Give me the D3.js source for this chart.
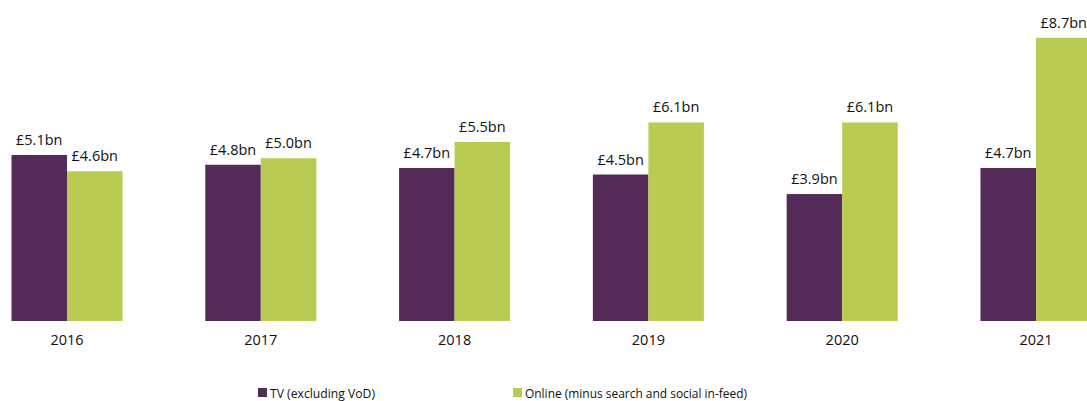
<!DOCTYPE html>
<html><head><meta charset="utf-8">
<script src="https://cdn.jsdelivr.net/npm/d3@7"></script>
<style>body{margin:0;background:#fff}svg{display:block}text{font-family:"Open Sans",sans-serif;fill:#111}</style>
</head><body>
<svg id="c" width="1087" height="401"></svg>
<script>
const years = ["2016","2017","2018","2019","2020","2021"];
const seriesNames = ["TV (excluding VoD)","Online (minus search and social in-feed)"];
const tvValues = [5.1,4.8,4.7,4.5,3.9,4.7];
const onlineValues = [4.6,5.0,5.5,6.1,6.1,8.7];
const colors = ["#542a59","#b9cb50"];

const svg = d3.select("#c");
const step = 193.8, x0 = 67 - step/2;
const x = d3.scaleBand().domain(years).range([x0, x0 + step*years.length]).paddingInner(0.427).paddingOuter(0.2135);
const xs = d3.scaleBand().domain([0,1]).range([0, x.bandwidth()]);
const y = d3.scaleLinear().domain([0,9]).range([321, 321 - 32.55*9]);

const data = years.map((yr,i)=>({year:yr, vals:[tvValues[i], onlineValues[i]]}));
const g = svg.append("g");
const grp = g.selectAll("g.grp").data(data).join("g").attr("transform", d=>`translate(${x(d.year)},0)`);
grp.selectAll("rect").data(d=>d.vals.map((v,k)=>({v,k}))).join("rect")
  .attr("x", d=>xs(d.k)).attr("width", xs.bandwidth())
  .attr("y", d=>y(d.v)).attr("height", d=>y(0)-y(d.v)).attr("fill", d=>colors[d.k]);
grp.selectAll("text.v").data(d=>d.vals.map((v,k)=>({v,k}))).join("text").attr("class","v")
  .attr("x", d=>xs(d.k)+xs.bandwidth()/2).attr("y", d=>y(d.v)-10)
  .attr("text-anchor","middle").style("font-size","14.5px")
  .text(d=>"£"+d.v.toFixed(1)+"bn");

const xAxis = svg.append("g").attr("transform","translate(0,321)").call(d3.axisBottom(x).tickSize(0).tickPadding(14));
xAxis.select(".domain").remove();
xAxis.selectAll("text").style("font-size","14.5px").style("font-family","Open Sans").attr("fill","#111");

const legX = [258, 513];
const legLen = [105, 222];
const leg = svg.selectAll("g.leg").data(seriesNames).join("g").attr("class","leg")
  .attr("transform",(d,i)=>`translate(${legX[i]},388)`);
leg.append("rect").attr("width",9).attr("height",9).attr("fill",(d,i)=>colors[i]);
leg.append("text").attr("x",12).attr("y",10).style("font-size","13.5px")
  .attr("textLength",(d,i)=>legLen[i]).attr("lengthAdjust","spacingAndGlyphs").text(d=>d);
</script>
</body></html>
